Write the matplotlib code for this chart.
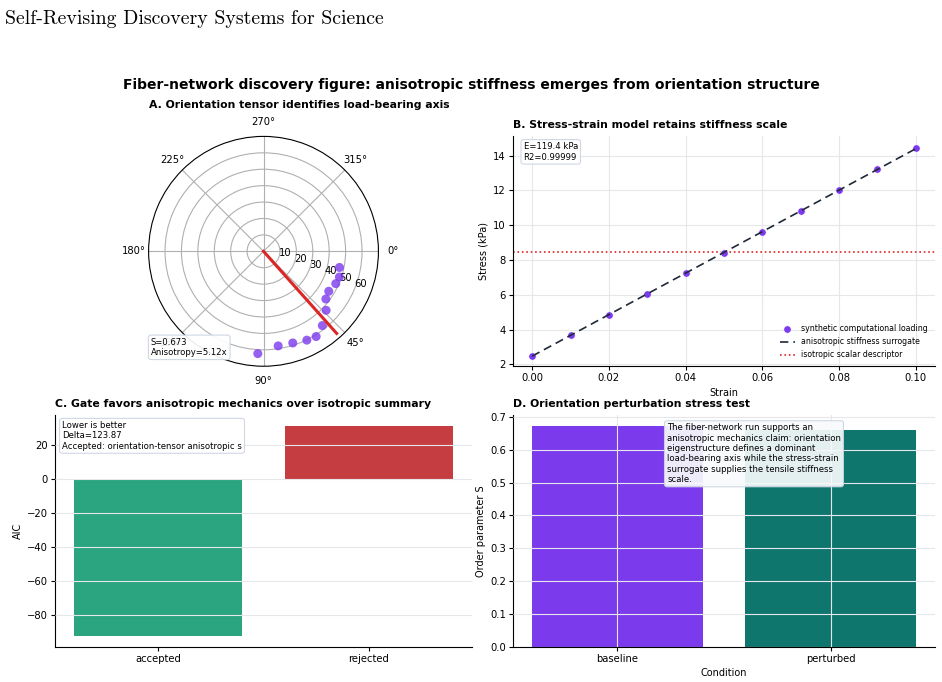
import numpy as np
import matplotlib
matplotlib.use("Agg")
import matplotlib.pyplot as plt

# ----------------------------------------------------------------------
# Data
# ----------------------------------------------------------------------
# A. orientation histogram (angle in deg, radius)
orient_angle_deg = [12.0, 18.7, 24.1, 31.5, 37.4, 43.3, 51.6, 58.3, 64.0, 72.3, 81.2, 93.2]
orient_radius = [47.3, 48.8, 48.2, 46.6, 47.8, 52.4, 57.7, 61.0, 60.2, 58.6, 58.3, 62.4]
principal_angle_deg = 48.3
principal_length = 67.0
order_S = 0.673
anisotropy = 5.12

# B. stress-strain
strain = [0.00, 0.01, 0.02, 0.03, 0.04, 0.05, 0.06, 0.07, 0.08, 0.09, 0.10]
stress = [2.50, 3.68, 4.87, 6.05, 7.23, 8.43, 9.62, 10.81, 12.02, 13.20, 14.42]
E_kpa = 119.4
r2 = 0.99999

# C. AIC gate
aic_labels = ["accepted", "rejected"]
aic_values = [-92.6, 31.27]

# D. perturbation test
cond_labels = ["baseline", "perturbed"]
cond_S = [0.673, 0.661]

purple = "#7c3aed"
teal = "#0f766e"
green = "#2aa580"
red = "#c53d40"
grid_c = "#e5e7eb"
box = dict(boxstyle="round,pad=0.3", facecolor="white", edgecolor="#cbd5e1", alpha=0.92, linewidth=0.8)
note_fs = 6.1
title_fs = 7.85

plt.rcParams["font.family"] = "DejaVu Sans"
plt.rcParams["xtick.labelsize"] = 7.2
plt.rcParams["ytick.labelsize"] = 7.2
plt.rcParams["axes.labelsize"] = 7
plt.rcParams["xtick.major.pad"] = 2.2
plt.rcParams["ytick.major.pad"] = 2.2
plt.rcParams["axes.labelpad"] = 3

fig = plt.figure(figsize=(9.42, 6.82), dpi=100)

fig.text(0.005, 0.985, "Self-Revising Discovery Systems for Science", family="cmr10",
         fontsize=14.3, ha="left", va="top")
fig.suptitle("Fiber-network discovery figure: anisotropic stiffness emerges from orientation structure",
             fontsize=10, fontweight="bold", y=0.885)

def style_cart(ax):
    ax.spines["top"].set_visible(False)
    ax.spines["right"].set_visible(False)
    ax.tick_params(length=3, width=0.8)

# ======================================================================
# A. polar orientation
# ======================================================================
axA = fig.add_axes([0.0584, 0.463, 0.4427, 0.337], projection="polar")
axA.set_theta_zero_location("E")
axA.set_theta_direction(-1)
axA.scatter(np.deg2rad(orient_angle_deg), orient_radius, s=42, color=purple, alpha=0.8,
            edgecolors="none", zorder=3)
th = np.deg2rad(principal_angle_deg)
axA.plot([th, th], [0, principal_length], color="#dc2626", linewidth=2.2, zorder=4)
axA.set_ylim(0, 70)
axA.set_yticks([10, 20, 30, 40, 50, 60])
axA.tick_params(labelsize=7.2)
axA.tick_params(axis="x", pad=0)
axA.grid(True, color="#b0b0b0", linewidth=0.8)
axA.set_title("A. Orientation tensor identifies load-bearing axis", loc="left",
              fontsize=title_fs, fontweight="bold")
axA.text(0.01, 0.04, "S=%.3f\nAnisotropy=%.2fx" % (order_S, anisotropy), transform=axA.transAxes,
         fontsize=note_fs, ha="left", va="bottom", bbox=box, zorder=5)

# ======================================================================
# B. stress-strain
# ======================================================================
axB = fig.add_axes([0.5446, 0.463, 0.448, 0.337])
style_cart(axB)
axB.grid(True, color=grid_c, linewidth=0.8)
axB.set_axisbelow(True)
x = np.array(strain)
y = np.array(stress)
slope, icpt = np.polyfit(x, y, 1)
axB.scatter(x, y, s=28, color=purple, edgecolors="white", linewidths=0.4, zorder=3,
            label="synthetic computational loading")
axB.plot(x, slope * x + icpt, color="#1f2937", linestyle=(0, (5, 3)), linewidth=1.2, zorder=4,
         label="anisotropic stiffness surrogate")
axB.axhline(np.mean(y), color="#dc2626", linestyle=":", linewidth=1.2,
            label="isotropic scalar descriptor")
axB.set_ylim(1.9, 15.1)
axB.set_yticks([2, 4, 6, 8, 10, 12, 14])
axB.set_xticks([0.0, 0.02, 0.04, 0.06, 0.08, 0.10])
axB.set_xlabel("Strain")
axB.set_ylabel("Stress (kPa)")
axB.set_title("B. Stress-strain model retains stiffness scale", loc="left",
              fontsize=title_fs, fontweight="bold")
axB.legend(loc="lower right", fontsize=5.6, frameon=False)
axB.text(0.025, 0.975, "E=%.1f kPa\nR2=%.5f" % (E_kpa, r2), transform=axB.transAxes,
         fontsize=note_fs, ha="left", va="top", bbox=box)

# ======================================================================
# C. AIC gate
# ======================================================================
axC = fig.add_axes([0.0584, 0.0513, 0.4427, 0.340])
style_cart(axC)
axC.bar(aic_labels, aic_values, color=[green, red], width=0.8)
axC.grid(True, axis="y", color=grid_c, linewidth=0.8)
axC.set_axisbelow(False)
axC.set_ylabel("AIC")
axC.set_title("C. Gate favors anisotropic mechanics over isotropic summary", loc="left",
              fontsize=title_fs, fontweight="bold")
delta = aic_values[1] - aic_values[0]
axC.text(0.017, 0.975, "Lower is better\nDelta=%.2f\nAccepted: orientation-tensor anisotropic s" % delta,
         transform=axC.transAxes, fontsize=note_fs, ha="left", va="top", bbox=box)

# ======================================================================
# D. perturbation
# ======================================================================
axD = fig.add_axes([0.5446, 0.0513, 0.448, 0.340])
style_cart(axD)
axD.bar(cond_labels, cond_S, color=[purple, teal], width=0.8)
axD.grid(True, color=grid_c, linewidth=0.8)
axD.set_axisbelow(False)
axD.set_ylim(0, 0.705)
axD.set_xlabel("Condition")
axD.set_ylabel("Order parameter S")
axD.set_title("D. Orientation perturbation stress test", loc="left",
              fontsize=title_fs, fontweight="bold")
axD.text(0.365, 0.965,
         "The fiber-network run supports an\nanisotropic mechanics claim: orientation\n"
         "eigenstructure defines a dominant\nload-bearing axis while the stress-strain\n"
         "surrogate supplies the tensile stiffness\nscale.",
         transform=axD.transAxes, fontsize=note_fs, ha="left", va="top",
         bbox=dict(boxstyle="round,pad=0.3", facecolor="#f8fafc", edgecolor="#cbd5e1",
                   alpha=0.92, linewidth=0.8))

fig.savefig("out.png", dpi=100)
